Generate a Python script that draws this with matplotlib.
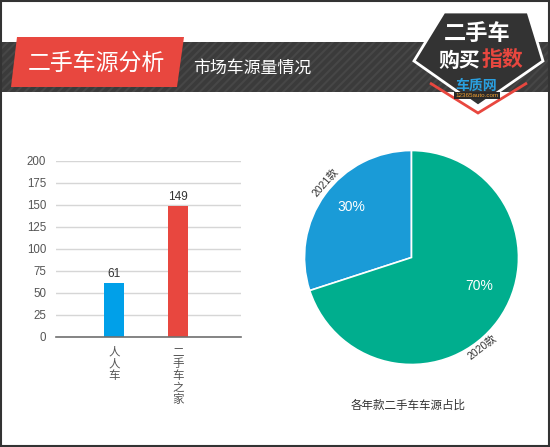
import numpy as np
import matplotlib
matplotlib.use("Agg")
import matplotlib.pyplot as plt
from matplotlib.patches import Polygon, Rectangle

plt.rcParams['font.family'] = ['Liberation Sans', 'Noto Sans CJK SC', 'DejaVu Sans']
plt.rcParams['hatch.linewidth'] = 1.5

# ---------------- data ----------------
bar_categories = ["人人车", "二手车之家"]
bar_values = [61, 149]
y_ticks = [0, 25, 50, 75, 100, 125, 150, 175, 200]

pie_labels = ["2021款", "2020款"]
pie_values = [30, 70]

header_title = "二手车源分析"
header_subtitle = "市场车源量情况"
pie_title = "各年款二手车车源占比"

# ---------------- styles ----------------
bar_colors = ["#00a0e9", "#e8473f"]
pie_colors = ["#1a9bd7", "#00ae8e"]
label_angle_nudge = [-5, -16]
pct_angle_nudge = [-4, 13]
pct_radius = [0.73, 0.685]

W, H = 550, 447
fig = plt.figure(figsize=(W / 100, H / 100), dpi=100)

# background / decoration axes in pixel coordinates
bg = fig.add_axes([0, 0, 1, 1])
bg.set_xlim(0, W)
bg.set_ylim(H, 0)
bg.axis("off")

# header band with carbon texture
bg.add_patch(Rectangle((2, 42), 546, 50, facecolor="#3b3b3b", edgecolor="#474747",
                       hatch="////", linewidth=0))
# red slanted box
bg.add_patch(Polygon([(17, 37), (184, 37), (177, 87), (11, 87)], closed=True,
                     facecolor="#e8473f", edgecolor="none"))
bg.text(96, 63, header_title, color="white", fontsize=16.5, ha="center", va="center",
        family=["Noto Sans CJK SC"])
bg.text(193, 68, header_subtitle, color="white", fontsize=12.2, ha="left", va="center",
        family=["Noto Sans CJK SC"])

# logo
bg.add_patch(Polygon([(430, 83), (478, 113), (527, 83)], closed=False, fill=False,
                     edgecolor="#e8473f", linewidth=2))
bg.add_patch(Polygon([(444, 12), (528, 12), (543, 61), (478, 106), (414, 61)], closed=True,
                     facecolor="#333333", edgecolor="white", linewidth=2))
bg.text(477, 33, "二手车", color="white", fontsize=16, fontweight="bold", ha="center",
        va="center", family=["Noto Sans CJK SC"])
bg.text(459, 60, "购买", color="white", fontsize=15, fontweight="bold", ha="center",
        va="center", family=["Noto Sans CJK SC"])
bg.text(502, 60, "指数", color="#e8473f", fontsize=15, fontweight="bold", ha="center",
        va="center", family=["Noto Sans CJK SC"])
bg.text(476, 86, "车质网", color="#2aa0e0", fontsize=10, fontweight="bold", ha="center",
        va="center", family=["Noto Sans CJK SC"])
bg.add_patch(Rectangle((454, 92), 46, 7, facecolor="#2a2a2a", edgecolor="none"))
bg.text(477, 95.5, "12365auto.com", color="#f0a030", fontsize=4.5, ha="center", va="center")

# outer border
bg.add_patch(Rectangle((0.5, 0.5), W - 1.5, H - 1.5, fill=False, edgecolor="#333333",
                       linewidth=1.5))

# ---------------- bar chart ----------------
ax = fig.add_axes([56 / W, (H - 336.7) / H, 184.7 / W, 176 / H])
x = np.arange(len(bar_categories))
bars = ax.bar(x, bar_values, width=0.31, color=bar_colors, zorder=3)
ax.set_xlim(-0.906, 1.98)
ax.set_ylim(0, 200)
ax.set_yticks(y_ticks)
ax.yaxis.grid(True, color="#d6d6d6", linewidth=1, zorder=0)
ax.set_axisbelow(True)
for s in ["top", "right", "left"]:
    ax.spines[s].set_visible(False)
ax.spines["bottom"].set_color("#707070")
ax.spines["bottom"].set_linewidth(1.2)
ax.spines["bottom"].set_zorder(4)
ax.tick_params(axis="y", length=0, pad=7, labelsize=8.3, labelcolor="#555555")
ax.set_xticks(x)
ax.set_xticklabels(["\n".join(c) for c in bar_categories], fontsize=8.3, color="#555555",
                   linespacing=0.98, va="top")
ax.tick_params(axis="x", length=0, pad=7)
for rect, v in zip(bars, bar_values):
    ax.annotate(str(v), (rect.get_x() + rect.get_width() / 2, v), xytext=(0, 2),
                textcoords="offset points", ha="center", va="bottom", fontsize=8.5,
                color="#333333")

# ---------------- pie chart ----------------
R = 107
pax = fig.add_axes([(411.5 - R) / W, (H - 257.5 - R) / H, 2 * R / W, 2 * R / H])
wedges, _, autotexts = pax.pie(pie_values, colors=pie_colors, startangle=90,
                               counterclock=True, autopct="%d%%", pctdistance=0.72,
                               radius=1, wedgeprops=dict(edgecolor="white", linewidth=1.2),
                               textprops=dict(color="white", fontsize=10))
pax.set_xlim(-1, 1)
pax.set_ylim(-1, 1)
pax.set_aspect("equal")
pax.axis("off")

for w, at, nudge, pr in zip(wedges, autotexts, pct_angle_nudge, pct_radius):
    ang = (w.theta1 + w.theta2) / 2 + nudge
    at.set_position((pr * np.cos(np.radians(ang)), pr * np.sin(np.radians(ang))))

for w, lab, nudge in zip(wedges, pie_labels, label_angle_nudge):
    ang = (w.theta1 + w.theta2) / 2 + nudge
    r = 1.07
    px = r * np.cos(np.radians(ang))
    py = r * np.sin(np.radians(ang))
    rot = (ang - 90) % 180
    pax.text(px, py, lab, rotation=rot, ha="center", va="center", fontsize=7.5,
             color="#333333", rotation_mode="anchor", clip_on=False)

bg.text(408, 405, pie_title, ha="center", va="center", fontsize=8.3, color="#333333",
        family=["Noto Sans CJK SC"])

fig.savefig("out.png", dpi=100)
